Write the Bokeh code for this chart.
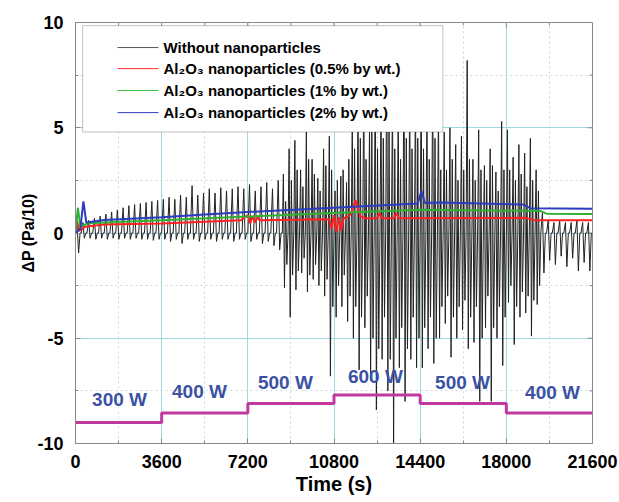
from bokeh.plotting import figure
from bokeh.models import Range1d, SingleIntervalTicker, BoxAnnotation
from bokeh.core.properties import value
from bokeh.embed import file_html
from bokeh.resources import INLINE

# ---------------- data ----------------
BIN = 240  # seconds per oscillation cycle of the black trace
spike_hi = [
    0.3, 0.5, 0.6, 0.7, 0.8, 0.9, 1.0, 1.1, 1.2, 1.3, 1.35, 1.4, 1.45, 1.5, 1.55,
    1.6, 1.7, 1.6, 1.8, 1.7, 2.25, 1.8, 1.9, 2.1, 1.9, 2.15, 2.0, 2.1, 2.2, 2.1,
    2.3, 2.0, 2.2, 2.4, 2.1, 2.5, 2.8, 4.0, 4.4, 3.0, 4.8, 3.5, 2.6, 4.0, 4.6,
    2.0, 2.7, 2.4, 5.5, 6.0, 7.5, 5.0, 8.0, 6.5, 9.0, 7.0, 6.0, 8.5, 6.5, 7.0,
    7.0, 6.0, 7.5, 6.0, 4.8, 5.0, 4.2, 4.6, 8.2, 3.5, 4.9, 3.2, 4.0, 2.9, 5.3,
    4.9, 3.6, 4.2, 3.8, 4.5, 3.0, 1.0, 0.6, 0.5, 0.6, 0.5, 0.5, 0.6, 0.5, 0.5,
]
spike_lo = [
    -0.95, -0.25, -0.25, -0.3, -0.25, -0.3, -0.25, -0.3, -0.25, -0.3, -0.25, -0.3, -0.3, -0.35, -0.3,
    -0.3, -0.4, -0.3, -0.5, -0.3, -0.3, -0.4, -0.3, -0.3, -0.4, -0.3, -0.3, -0.4, -0.3, -0.3,
    -0.4, -0.3, -0.5, -0.4, -0.6, -0.8, -2.6, -4.0, -2.7, -1.9, -2.8, -2.2, -2.5, -3.0, -6.8,
    -4.0, -3.5, -4.2, -5.0, -6.5, -4.5, -7.0, -8.4, -6.0, -7.5, -10.5, -6.4, -8.0, -6.0, -6.4,
    -6.4, -5.5, -6.2, -5.0, -4.3, -5.9, -5.0, -4.6, -5.5, -5.2, -8.0, -4.5, -8.0, -5.0, -6.3,
    -3.3, -5.3, -4.0, -3.8, -4.9, -3.4, -1.9, -1.3, -1.5, -1.1, -1.6, -1.2, -1.8, -1.4, -1.8,
]
# secondary (in-between) swings during the unstable period, cycles 36..80
BURST_START = 36
burst_hi = [
    1.5, 2.5, 3.0, 2.2, 3.5, 2.8, 2.0, 3.2, 3.0,
    2.5, 3.0, 3.5, 4.0, 4.5, 3.5, 5.0, 4.0, 4.5, 5.0, 4.0, 3.5, 4.5, 4.0, 4.5,
    4.0, 3.5, 4.5, 3.0, 3.0, 3.5, 2.5, 3.0, 3.5, 2.5, 3.0, 2.5, 3.2, 2.0, 3.0,
    3.0, 2.5, 2.8, 2.2, 2.5, 2.0,
]
burst_lo = [
    -1.5, -2.0, -1.8, -1.2, -2.0, -1.5, -1.8, -2.2, -3.5,
    -2.5, -2.0, -3.0, -3.5, -4.0, -3.0, -5.0, -5.5, -4.0, -6.0, -5.0, -4.5, -5.5, -4.0, -5.0,
    -4.5, -4.0, -5.0, -3.5, -3.0, -4.0, -3.5, -3.2, -4.0, -3.5, -5.0, -3.0, -4.5, -3.5, -4.0,
    -2.5, -3.5, -2.8, -3.0, -3.2, -2.5,
]

red_t = [0, 60, 150, 400, 1200, 3600, 6900, 7200, 7300, 7400, 7500, 7600, 7700, 10600, 10700,
         10800, 10900, 11000, 11100, 11200, 11350, 11500, 11700, 11900, 12100, 12600, 12700,
         12800, 13300, 13400, 13500, 18800, 19200, 21600]
red_v = [0.0, 0.6, 0.1, 0.3, 0.4, 0.45, 0.6, 0.85, 0.45, 0.8, 0.5, 0.75, 0.6, 0.65, 0.2,
         0.85, 0.05, 0.75, 0.1, 0.7, 0.75, 0.9, 1.55, 0.8, 0.7, 0.7, 0.95,
         0.7, 0.7, 0.95, 0.7, 0.72, 0.6, 0.6]

green_t = [0, 100, 200, 500, 1200, 3600, 7200, 10800, 14400, 19400, 19700, 21600]
green_v = [0.0, 1.2, 0.3, 0.45, 0.5, 0.6, 0.78, 0.95, 1.1, 1.05, 0.92, 0.9]

blue_t = [0, 200, 330, 450, 1200, 3600, 5400, 7200, 10800, 14300, 14450, 14600, 15300, 18700, 19000, 21600]
blue_v = [0.0, 0.2, 1.5, 0.5, 0.62, 0.75, 0.88, 1.0, 1.2, 1.4, 2.0, 1.42, 1.45, 1.35, 1.18, 1.15]

power_t = [0, 3600, 7200, 10800, 14400, 18000, 21600]
power_level = [-9.0, -8.55, -8.1, -7.7, -8.1, -8.55]
power_labels = ["300 W", "400 W", "500 W", "600 W", "500 W", "400 W"]
power_label_t = [1840, 5180, 8770, 12530, 16170, 19930]
power_label_y = [-7.9, -7.53, -7.1, -6.8, -7.1, -7.6]

legend_labels = ["Without nanoparticles",
                 "Al\u2082O\u2083 nanoparticles (0.5% by wt.)",
                 "Al\u2082O\u2083 nanoparticles (1% by wt.)",
                 "Al\u2082O\u2083 nanoparticles (2% by wt.)"]
legend_colors = ["#555555", "#ff3030", "#40c040", "#3040c0"]
legend_rows_y = [8.81, 7.81, 6.77, 5.72]

y_tick_labels = {-10: "-10", -5: "-5", 0: "0", 5: "5", 10: "10"}

X_MAX, Y_MIN, Y_MAX = 21600, -10, 10
x_minor_ticks = list(range(0, X_MAX + 1, 1800))
y_minor_ticks = [-7.5, -5, -2.5, 0, 2.5, 5, 7.5]

# ---------------- figure ----------------
FONT = "Liberation Sans"
p = figure(width=619, height=502, x_range=Range1d(0, X_MAX), y_range=Range1d(Y_MIN, Y_MAX),
           output_backend="svg", toolbar_location=None,
           min_border_left=75, min_border_right=27, min_border_top=22, min_border_bottom=59)
p.background_fill_color = "white"
p.outline_line_color = "#888888"

xt = SingleIntervalTicker(interval=3600, num_minor_ticks=2)
yt = SingleIntervalTicker(interval=5, num_minor_ticks=2)
p.xaxis.ticker = xt
p.yaxis.ticker = yt
p.xgrid.ticker = xt
p.ygrid.ticker = yt

for ax in (p.xaxis, p.yaxis):
    ax.major_tick_in = 5
    ax.major_tick_out = 0
    ax.minor_tick_in = 3
    ax.minor_tick_out = 0
    ax.axis_line_color = "#888888"
    ax.major_tick_line_color = "#888888"
    ax.minor_tick_line_color = "#888888"
    ax.major_label_text_font = FONT
    ax.major_label_text_font_style = "bold"
    ax.major_label_text_font_size = "18px"
    ax.major_label_text_color = "black"
    ax.axis_label_text_font = FONT
    ax.axis_label_text_font_style = "bold"
    ax.axis_label_text_color = "black"

p.yaxis.major_label_overrides = y_tick_labels
p.xaxis.axis_label = "Time (s)"
p.xaxis.axis_label_text_font_size = "20px"
p.xaxis.major_label_standoff = 11
p.xaxis.axis_label_standoff = 2
p.yaxis.axis_label = "\u0394P (Pa/10)"
p.yaxis.axis_label_text_font_size = "16px"
p.yaxis.major_label_standoff = 12
p.yaxis.axis_label_standoff = -3

for g in (p.xgrid, p.ygrid):
    g.grid_line_color = "#9fdbe3"
    g.grid_line_width = 1
    g.minor_grid_line_color = "#c8d8dc"
    g.minor_grid_line_dash = "2 3"

# inward ticks on the top and right frame edges
px_x = X_MAX / 517.0
px_y = (Y_MAX - Y_MIN) / 421.0
tx0, tx1, ty0, ty1 = [], [], [], []
for i, t in enumerate(x_minor_ticks):
    ln = 5 if i % 2 == 0 else 3
    tx0.append(t); tx1.append(t); ty0.append(Y_MAX); ty1.append(Y_MAX - ln * px_y)
for v in y_minor_ticks:
    ln = 5 if v % 5 == 0 else 3
    tx0.append(X_MAX); tx1.append(X_MAX - ln * px_x); ty0.append(v); ty1.append(v)
p.segment(x0=tx0, x1=tx1, y0=ty0, y1=ty1, color="#888888", line_width=1)

# black trace built from the per-cycle peaks
bx, by = [], []
for i, (h, l) in enumerate(zip(spike_hi, spike_lo)):
    t0 = i * BIN
    j = i - BURST_START
    if 0 <= j < len(burst_hi):
        bx += [t0, t0 + 45, t0 + 90, t0 + 140, t0 + 190]
        by += [0.0, h, l, burst_hi[j], burst_lo[j]]
    else:
        bx += [t0, t0 + 70, t0 + 130, t0 + 190]
        by += [0.0, h, l, 0.0]
p.line(bx, by, color="#222222", line_width=1)

p.line(red_t, red_v, color="#ff2020", line_width=2)
p.line(green_t, green_v, color="#30b030", line_width=2)
p.line(blue_t, blue_v, color="#2a3cc0", line_width=2)

p.step(power_t, power_level + [power_level[-1]], mode="after", color="#c0399e", line_width=3)
p.text(x=power_label_t, y=power_label_y, text=power_labels, text_align="center",
       text_baseline="middle", text_font=value(FONT), text_font_style="bold",
       text_font_size="19px", text_color="#3b52a4")

# legend (manual, drawn over the data)
box = BoxAnnotation(left=300, right=15350, top=9.85, bottom=4.8, fill_color="white",
                    fill_alpha=1.0, line_color="#333333", line_width=1)
p.add_layout(box)
p.segment(x0=[1755] * 4, x1=[3468] * 4, y0=legend_rows_y, y1=legend_rows_y,
          color=legend_colors, line_width=1, level="overlay")
p.text(x=[3677] * 4, y=legend_rows_y, text=legend_labels, text_align="left",
       text_baseline="middle", text_font=value(FONT), text_font_style="bold",
       text_font_size="15px", text_color="black", level="overlay")

open("out.html", "w").write(file_html(p, INLINE))
